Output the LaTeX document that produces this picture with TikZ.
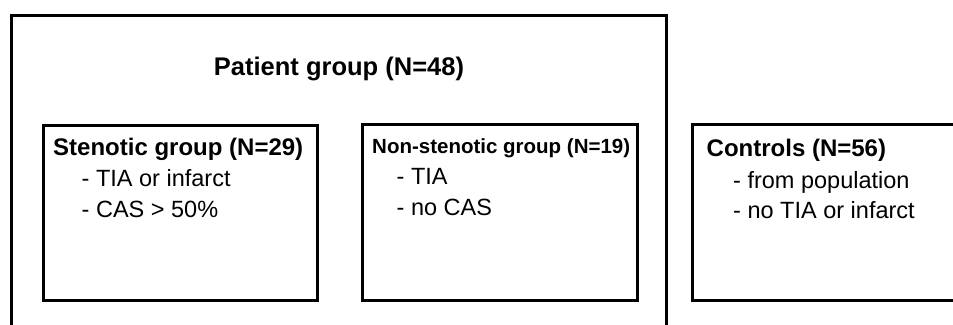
\documentclass[tikz,border=0pt]{standalone}
\usepackage{fontspec}
\setmainfont{Liberation Sans}
\begin{document}
\begin{tikzpicture}[x=1pt,y=-1pt,
  box/.style={draw=black, line width=3pt, rectangle, inner sep=0pt},
  txt/.style={inner sep=0pt, anchor=base west},
  hd/.style={txt, font=\fontsize{24}{28}\selectfont\bfseries},
  hdsmall/.style={txt, font=\fontsize{20.5}{24}\selectfont\bfseries},
  itm/.style={txt, font=\fontsize{23.5}{28}\selectfont}]
\useasboundingbox (0,0) rectangle (953,324);
\clip (0,0) rectangle (953,324);
\fill[white] (0,0) rectangle (953,324);
% outer patient box
\node[box, minimum width=655pt, minimum height=340pt] (outer) at (339,185.5) {};
\node[inner sep=0pt, anchor=base, font=\fontsize{25.5}{30}\selectfont\bfseries] (title) at (339,75) {Patient group (N=48)};
% stenotic
\node[box, minimum width=274.5pt, minimum height=175pt] (sten) at (180.4,213) {};
\node[hd] (stenh) at (53,155) {Stenotic group (N=29)};
\node[itm] (sten1) at (81.5,186) {- TIA or infarct};
\node[itm] (sten2) at (81.5,217) {- CAS > 50\%};
% non-stenotic
\node[box, minimum width=275pt, minimum height=176pt] (non) at (500,212.8) {};
\node[hdsmall] (nonh) at (372,153) {Non-stenotic group (N=19)};
\node[itm] (non1) at (396.5,184) {- TIA};
\node[itm] (non2) at (396.5,215) {- no CAS};
% controls
\node[box, minimum width=300pt, minimum height=176pt] (ctl) at (842,212.8) {};
\node[hd] (ctlh) at (706.5,156.5) {Controls (N=56)};
\node[itm] (ctl1) at (733,188) {- from population};
\node[itm] (ctl2) at (733,218.5) {- no TIA or infarct};
\end{tikzpicture}
\end{document}
